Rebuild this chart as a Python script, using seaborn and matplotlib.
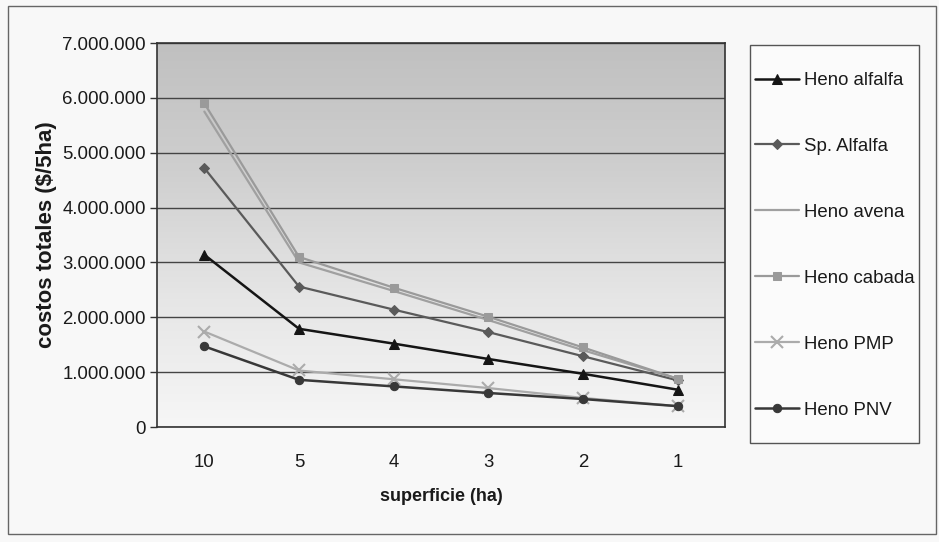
import numpy as np
import pandas as pd
import matplotlib
matplotlib.use("Agg")
import matplotlib.pyplot as plt
import seaborn as sns
from matplotlib.patches import Rectangle
from matplotlib.ticker import FuncFormatter, FixedLocator

superficie = ["10", "5", "4", "3", "2", "1"]
heno_alfalfa = [3140000, 1790000, 1520000, 1240000, 970000, 680000]
sp_alfalfa = [4720000, 2560000, 2140000, 1730000, 1290000, 850000]
heno_avena = [5750000, 3000000, 2480000, 1950000, 1400000, 880000]
heno_cabada = [5900000, 3100000, 2540000, 2010000, 1450000, 880000]
heno_pmp = [1740000, 1030000, 870000, 710000, 530000, 380000]
heno_pnv = [1470000, 860000, 740000, 620000, 510000, 380000]
y_ticks = [0, 1000000, 2000000, 3000000, 4000000, 5000000, 6000000, 7000000]

series = [
    ("Heno alfalfa", heno_alfalfa, "#151515", "^", 7, 1.8),
    ("Sp. Alfalfa", sp_alfalfa, "#5a5a5a", "D", 5, 1.6),
    ("Heno avena", heno_avena, "#a0a0a0", None, 0, 1.6),
    ("Heno cabada", heno_cabada, "#9a9a9a", "s", 6, 1.6),
    ("Heno PMP", heno_pmp, "#ababab", "x", 8, 1.6),
    ("Heno PNV", heno_pnv, "#383838", "o", 6, 1.8),
]

sns.set_style("white")
plt.rcParams["font.family"] = ["Liberation Sans", "DejaVu Sans"]

fig = plt.figure(figsize=(9.39, 5.42), dpi=100, facecolor="#f8f8f8")
ax = fig.add_axes([157/939, 1-427/542, (725-157)/939, (427-43)/542])

# gradient background of the plot area
grad = np.linspace(0, 1, 256).reshape(-1, 1)
cmap = matplotlib.colors.LinearSegmentedColormap.from_list(
    "bg", ["#f6f6f6", "#e6e6e6", "#cfcfcf", "#c0c0c0"])
ax.imshow(grad, aspect="auto", cmap=cmap, origin="lower",
          extent=[0, 1, 0, 1], transform=ax.transAxes, zorder=0)

x = np.arange(len(superficie))
for name, vals, col, mk, ms, lw in series:
    df = pd.DataFrame({"x": x, "y": vals})
    kw = dict(marker=mk, markersize=ms, markerfacecolor=col, markeredgecolor=col) if mk else {}
    if mk == "x":
        kw["markeredgewidth"] = 1.5
    sns.lineplot(data=df, x="x", y="y", ax=ax, color=col, linewidth=lw,
                 label=name, zorder=3, **kw)

ax.set_xlim(-0.5, len(superficie) - 0.5)
ax.set_ylim(0, 7000000)
ax.yaxis.set_major_locator(FixedLocator(y_ticks))
ax.yaxis.set_major_formatter(FuncFormatter(lambda v, p: f"{int(v):,}".replace(",", ".")))
ax.set_xticks(x)
ax.set_xticklabels(superficie)
ax.set_xticks(np.arange(-0.5, len(superficie), 1.0), minor=True)
ax.tick_params(axis="x", which="major", length=0, pad=19.5, labelsize=13.4, colors="#1a1a1a")
ax.tick_params(axis="x", which="minor", length=5, color="#333333", width=1, direction="out")
ax.tick_params(axis="y", which="major", length=5, color="#333333", width=1, direction="out",
               left=True, labelsize=13.4, colors="#1a1a1a", pad=3)
ax.grid(axis="y", color="#444444", linewidth=1.0, zorder=1)
for g in ax.get_ygridlines():
    g.set_zorder(1)
for s in ax.spines.values():
    s.set_color("#333333")
    s.set_linewidth(1.2)
ax.set_xlabel("superficie (ha)", fontsize=13, fontweight="bold", color="#1a1a1a", labelpad=12)
ax.set_ylabel("costos totales ($/5ha)", fontsize=16, fontweight="bold", color="#1a1a1a", labelpad=4)

leg = ax.legend(loc="upper left", bbox_to_anchor=(755/939, 1-72/542),
                bbox_transform=fig.transFigure, frameon=False,
                fontsize=13.4, labelspacing=2.63, handlelength=2.35, handletextpad=0.3,
                borderpad=0, borderaxespad=0)
for t in leg.get_texts():
    t.set_color("#1a1a1a")

# legend box (drawn beneath the axes and its legend)
fig.patches.append(Rectangle((750/939, 1-443/542), (919-750)/939, (443-45)/542,
                             transform=fig.transFigure, facecolor="#fbfbfb",
                             edgecolor="#555555", linewidth=1.0, zorder=-1))

# outer frame of the chart
fig.patches.append(Rectangle((8/939, 1-534/542), (936-8)/939, (534-6)/542,
                             transform=fig.transFigure, fill=False,
                             edgecolor="#666666", linewidth=1.0, zorder=-1))

fig.savefig("out.png", dpi=100, facecolor=fig.get_facecolor())
